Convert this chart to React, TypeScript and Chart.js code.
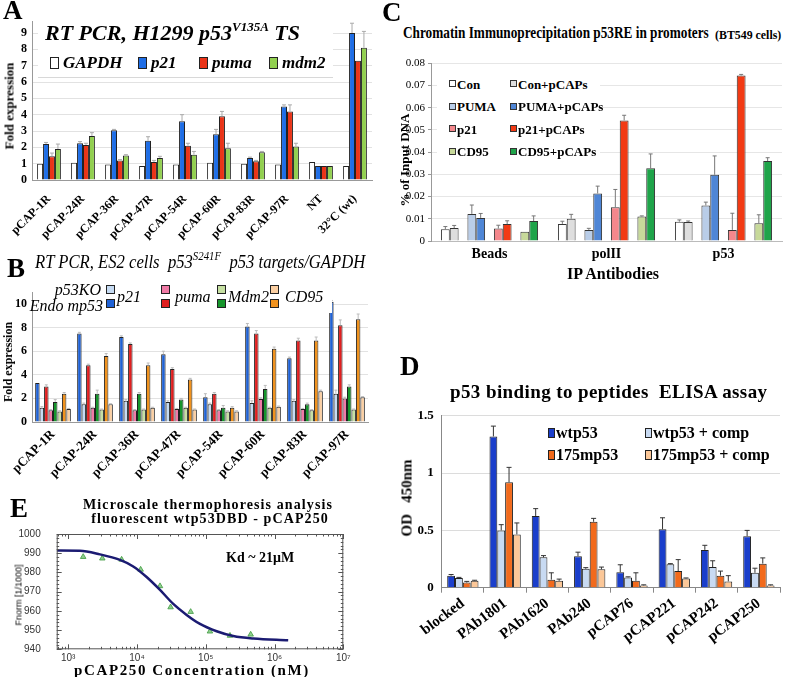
import React, { useEffect, useRef } from 'react';
import { Chart, registerables } from 'chart.js';
Chart.register(...registerables);

const SERIF = '"Liberation Serif", "Times New Roman", serif';
const SANS = '"Liberation Sans", "DejaVu Sans", Arial, sans-serif';

// ---------- Panel A data ----------
const aCategories = ['pCAP-1R', 'pCAP-24R', 'pCAP-36R', 'pCAP-47R', 'pCAP-54R', 'pCAP-60R', 'pCAP-83R', 'pCAP-97R', 'NT', '32°C (wt)'];
const aSeries = ['GAPDH', 'p21', 'puma', 'mdm2'];
const aGAPDH = [1.0, 1.05, 0.95, 0.85, 0.95, 1.05, 1.0, 0.95, 1.1, 0.85];
const aP21 = [2.2, 2.25, 3.05, 2.4, 3.6, 2.8, 1.35, 4.5, 0.85, 9.0];
const aPuma = [1.45, 2.15, 1.2, 1.1, 2.1, 3.9, 1.15, 4.2, 0.85, 7.3];
const aMdm2 = [1.9, 2.7, 1.5, 1.35, 1.55, 1.95, 1.7, 2.05, 0.85, 8.1];
const aGAPDHErr = [0, 0, 0, 0, 0, 0, 0, 0, 0, 0];
const aP21Err = [0.1, 0.1, 0.05, 0.25, 0.4, 0.3, 0.05, 0.1, 0, 0.6];
const aPumaErr = [0.2, 0.1, 0.05, 0.1, 0.15, 0.3, 0.05, 0.4, 0, 0];
const aMdm2Err = [0.3, 0.2, 0.05, 0.1, 0.2, 0.3, 0.05, 0.2, 0, 1.0];
const aYTicks = [0, 1, 2, 3, 4, 5, 6, 7, 8, 9];
const aColors = ['#ffffff', '#1f6ee6', '#ea3418', '#92d050'];

// ---------- Panel B data ----------
const bCategories = ['pCAP-1R', 'pCAP-24R', 'pCAP-36R', 'pCAP-47R', 'pCAP-54R', 'pCAP-60R', 'pCAP-83R', 'pCAP-97R'];
const bSeries = ['Endo mp53 p21', 'p53KO p21', 'Endo mp53 puma', 'p53KO puma', 'Endo mp53 Mdm2', 'p53KO Mdm2', 'Endo mp53 CD95', 'p53KO CD95'];
const bEndoP21 = [3.3, 7.5, 7.2, 5.75, 2.1, 8.1, 5.4, 10.2];
const bKoP21 = [1.2, 1.5, 1.8, 1.7, 1.5, 1.6, 1.8, 2.4];
const bEndoPuma = [3.0, 4.8, 6.6, 4.5, 2.4, 7.5, 6.9, 8.2];
const bKoPuma = [1.0, 1.2, 1.0, 1.1, 1.0, 1.95, 1.1, 2.0];
const bEndoMdm2 = [1.7, 2.4, 2.4, 1.9, 1.2, 2.8, 1.5, 3.0];
const bKoMdm2 = [0.9, 1.05, 1.05, 1.2, 0.9, 1.2, 1.0, 1.05];
const bEndoCd95 = [2.4, 5.6, 4.8, 3.6, 1.2, 6.2, 6.9, 8.7];
const bKoCd95 = [1.1, 1.5, 1.2, 1.05, 0.9, 1.3, 2.6, 2.1];
const bEndoP21Err = [0, 0.1, 0.1, 0.25, 0.3, 0.25, 0.1, 0.1];
const bKoP21Err = [0.1, 0.1, 0.1, 0.1, 0.1, 0.2, 0.1, 0.3];
const bEndoPumaErr = [0.15, 0.1, 0.1, 0.1, 0.1, 0.25, 0.2, 0.45];
const bKoPumaErr = [0.05, 0.05, 0.05, 0.05, 0.05, 0.1, 0.05, 0.1];
const bEndoMdm2Err = [0.2, 0.3, 0.1, 0.1, 0.2, 0.3, 0.1, 0.15];
const bKoMdm2Err = [0.05, 0.05, 0.05, 0.05, 0.05, 0.05, 0.05, 0.05];
const bEndoCd95Err = [0.1, 0.2, 0.2, 0.1, 0.1, 0.15, 0.3, 0.45];
const bKoCd95Err = [0.05, 0.05, 0.05, 0.05, 0.05, 0.05, 0.1, 0.05];
const bYTicks = [0, 2, 4, 6, 8, 10];
const bColors = ['#1f62d6', '#c6dbf3', '#e11f1f', '#f07aa6', '#16962c', '#c6e0a2', '#f0921e', '#fbcfa2'];

// ---------- Panel C data ----------
const cCategories = ['Beads', 'polII', 'p53'];
const cSeries = ['Con', 'Con+pCAPs', 'PUMA', 'PUMA+pCAPs', 'p21', 'p21+pCAPs', 'CD95', 'CD95+pCAPs'];
const cCon = [0.0053, 0.0077, 0.0087];
const cConP = [0.0058, 0.0100, 0.0085];
const cPuma = [0.0122, 0.0050, 0.0160];
const cPumaP = [0.0104, 0.0214, 0.0298];
const cP21 = [0.0056, 0.0152, 0.0050];
const cP21P = [0.0076, 0.0543, 0.0745];
const cCd95 = [0.0042, 0.0110, 0.0080];
const cCd95P = [0.0090, 0.0327, 0.0360];
const cConErr = [0.0012, 0.0012, 0.0008];
const cConPErr = [0.0012, 0.0020, 0.0005];
const cPumaErr = [0.0040, 0.0007, 0.0015];
const cPumaPErr = [0.0020, 0.0033, 0.0085];
const cP21Err = [0.0015, 0.0080, 0.0075];
const cP21PErr = [0.0015, 0.0023, 0.0005];
const cCd95Err = [0, 0.0003, 0.0038];
const cCd95PErr = [0.0023, 0.0065, 0.0015];
const cColors = ['#ffffff', '#dedede', '#b9cde8', '#4f86d6', '#f4878c', '#f23a14', '#c7d99a', '#1fa44a'];

// ---------- Panel D data ----------
const dCategories = ['blocked', 'PAb1801', 'PAb1620', 'PAb240', 'pCAP76', 'pCAP221', 'pCAP242', 'pCAP250'];
const dSeries = ['wtp53', 'wtp53 + comp', '175mp53', '175mp53 + comp'];
const dWt = [0.105, 1.32, 0.625, 0.275, 0.135, 0.51, 0.33, 0.45];
const dWtComp = [0.085, 0.50, 0.265, 0.165, 0.09, 0.205, 0.18, 0.13];
const dMut = [0.045, 0.92, 0.07, 0.575, 0.06, 0.145, 0.105, 0.21];
const dMutComp = [0.06, 0.465, 0.06, 0.16, 0.02, 0.08, 0.055, 0.02];
const dWtErr = [0.01, 0.09, 0.065, 0.035, 0.065, 0.10, 0.04, 0.05];
const dWtCompErr = [0.005, 0.05, 0.015, 0.01, 0.005, 0.005, 0.055, 0.04];
const dMutErr = [0.01, 0.13, 0.06, 0.03, 0.07, 0.10, 0.04, 0.05];
const dMutCompErr = [0.005, 0.10, 0.015, 0.02, 0.005, 0.005, 0.05, 0.005];
const dColors = ['#1a3ecb', '#c8daf2', '#f26a1c', '#fbc798'];

// ---------- Panel E data ----------
const eConc = [1650, 3130, 5980, 11300, 21600, 30800, 60300, 115000, 225000, 450000];
const eFnorm = [988.1, 987.3, 986.7, 981.5, 972.9, 961.9, 959.5, 949.3, 947.1, 947.7];
const eFitConc = [680, 1480, 2890, 5650, 8820, 13800, 21600, 33700, 52700, 82400, 144000, 251000, 491000, 1580000];
const eFitFnorm = [991.4, 991.3, 989.4, 986.5, 983.1, 977.6, 970.9, 963.6, 957.9, 953.2, 949.4, 946.9, 945.6, 944.7];
const eXTicks = [1e3, 1e4, 1e5, 1e6, 1e7];
const eXTickLabels = ['10³', '10⁴', '10⁵', '10⁶', '10⁷'];

// ---------- plugins ----------
const errorBars = {
  id: 'errorBars',
  afterDatasetsDraw(chart: any, _a: any, opts: any) {
    const ctx = chart.ctx;
    const ys = chart.scales.y;
    chart.data.datasets.forEach((ds: any, di: number) => {
      const errs = ds.errors;
      if (!errs) return;
      const meta = chart.getDatasetMeta(di);
      meta.data.forEach((bar: any, i: number) => {
        const v = ds.data[i];
        const e = errs[i];
        if (v == null || !e) return;
        const x = bar.x;
        const y0 = ys.getPixelForValue(v);
        const y1 = ys.getPixelForValue(v + e);
        ctx.save();
        ctx.strokeStyle = opts.color || '#666';
        ctx.lineWidth = opts.width || 1;
        ctx.beginPath();
        ctx.moveTo(x, y0);
        ctx.lineTo(x, y1);
        ctx.moveTo(x - (opts.cap || 2), y1);
        ctx.lineTo(x + (opts.cap || 2), y1);
        ctx.stroke();
        ctx.restore();
      });
    });
  },
};

const frameTicks = {
  id: 'frameTicks',
  afterDraw(chart: any, _a: any, opts: any) {
    if (!opts || !opts.enabled) return;
    const { ctx, chartArea: ca, scales } = chart;
    const xs = scales.x, ys = scales.y;
    ctx.save();
    ctx.strokeStyle = '#555';
    ctx.lineWidth = 1;
    ctx.strokeRect(ca.left + 0.5, ca.top + 0.5, ca.right - ca.left - 1, ca.bottom - ca.top - 1);
    ctx.beginPath();
    for (let d = 2; d < 8; d++) {
      for (let m = 1; m < 10; m++) {
        const v = m * Math.pow(10, d);
        if (v < xs.min || v > xs.max) continue;
        const px = Math.round(xs.getPixelForValue(v)) + 0.5;
        const len = m === 1 ? 5 : 2.5;
        ctx.moveTo(px, ca.bottom); ctx.lineTo(px, ca.bottom - len);
        ctx.moveTo(px, ca.top); ctx.lineTo(px, ca.top + len);
      }
    }
    for (let v = 940; v <= 1000; v += 2) {
      const py = Math.round(ys.getPixelForValue(v)) + 0.5;
      const len = v % 10 === 0 ? 5 : 2.5;
      ctx.moveTo(ca.left, py); ctx.lineTo(ca.left + len, py);
      ctx.moveTo(ca.right, py); ctx.lineTo(ca.right - len, py);
    }
    ctx.stroke();
    ctx.restore();
  },
};

Chart.register(errorBars, frameTicks);

const noPlug = { legend: { display: false }, tooltip: { enabled: false } };

function mkBars(labels: string[], values: number[][], errs: number[][] | null, colors: string[], catPct: number, border = '#222') {
  return values.map((vals, k) => ({
    label: labels[k],
    data: vals,
    errors: errs ? errs[k] : null,
    backgroundColor: colors[k],
    borderColor: border,
    borderWidth: 1,
    categoryPercentage: catPct,
    barPercentage: 1,
  }));
}

// ---------- configs ----------
function configA() {
  return {
    type: 'bar',
    data: {
      labels: aCategories,
      datasets: mkBars(aSeries, [aGAPDH, aP21, aPuma, aMdm2], [aGAPDHErr, aP21Err, aPumaErr, aMdm2Err], aColors, 0.7),
    },
    options: {
      responsive: false, animation: false,
      layout: { padding: { top: 21.6, right: 18, left: 0, bottom: 0 } },
      plugins: { ...noPlug, errorBars: { color: '#aaa', cap: 2 } },
      scales: {
        x: {
          grid: { display: false }, border: { color: '#999' },
          ticks: { font: { family: SERIF, size: 12, weight: 'bold' }, color: '#000', minRotation: 45, maxRotation: 45, autoSkip: false, padding: 4 },
          afterFit: (s: any) => { s.height = 80; },
        },
        y: {
          min: 0, max: 9.7,
          ticks: { font: { family: SERIF, size: 12, weight: 'bold' }, color: '#000', padding: 5 },
          afterBuildTicks: (s: any) => { s.ticks = aYTicks.map((v) => ({ value: v })); },
          grid: { color: '#e2e2e2', drawTicks: false }, border: { color: '#999' },
          afterFit: (s: any) => { s.width = 32; },
        },
      },
    },
  };
}

function configB() {
  return {
    type: 'bar',
    data: {
      labels: bCategories,
      datasets: mkBars(bSeries, [bEndoP21, bKoP21, bEndoPuma, bKoPuma, bEndoMdm2, bKoMdm2, bEndoCd95, bKoCd95],
        [bEndoP21Err, bKoP21Err, bEndoPumaErr, bKoPumaErr, bEndoMdm2Err, bKoMdm2Err, bEndoCd95Err, bKoCd95Err], bColors, 0.85),
    },
    options: {
      responsive: false, animation: false,
      layout: { padding: { top: 2.3, right: 22, left: 0, bottom: 0 } },
      plugins: { ...noPlug, errorBars: { color: '#bbb', cap: 1.5 } },
      scales: {
        x: {
          grid: { display: false, drawTicks: false }, border: { color: '#999' },
          ticks: { font: { family: SERIF, size: 13, weight: 'bold' }, color: '#000', minRotation: 45, maxRotation: 45, autoSkip: false, padding: 5 },
          afterFit: (s: any) => { s.height = 58; },
        },
        y: {
          min: 0, max: 11,
          ticks: { font: { family: SERIF, size: 12, weight: 'bold' }, color: '#000', padding: 5 },
          afterBuildTicks: (s: any) => { s.ticks = bYTicks.map((v) => ({ value: v })); },
          grid: { color: '#e2e2e2', drawTicks: false }, border: { color: '#999' },
          afterFit: (s: any) => { s.width = 32; },
        },
      },
    },
  };
}

function configC() {
  const values = [cCon, cConP, cPuma, cPumaP, cP21, cP21P, cCd95, cCd95P];
  const errs = [cConErr, cConPErr, cPumaErr, cPumaPErr, cP21Err, cP21PErr, cCd95Err, cCd95PErr];
  const bars = mkBars(cSeries, values, errs, cColors, 0.83, '#333');
  const spacer = () => ({ label: '', data: cCategories.map(() => null), categoryPercentage: 0.83, barPercentage: 1 });
  const datasets = [bars[0], bars[1], spacer(), bars[2], bars[3], spacer(), bars[4], bars[5], spacer(), bars[6], bars[7]];
  return {
    type: 'bar',
    data: { labels: cCategories, datasets },
    options: {
      responsive: false, animation: false,
      layout: { padding: { top: 18.3, right: 10, left: 0, bottom: 0 } },
      plugins: { ...noPlug, errorBars: { color: '#777', cap: 2 } },
      scales: {
        x: {
          grid: { display: false, drawTicks: false }, border: { color: '#bbb' },
          ticks: { font: { family: SERIF, size: 14, weight: 'bold' }, color: '#000', padding: 5 },
          afterFit: (s: any) => { s.height = 44; },
        },
        y: {
          min: 0, max: 0.08,
          ticks: { stepSize: 0.01, font: { family: SERIF, size: 11 }, color: '#000', padding: 3,
            callback: (v: any) => (v === 0 ? '0' : Number(v).toFixed(2)) },
          grid: { color: '#e6e6e6', drawTicks: true, tickLength: 3, tickColor: '#999' }, border: { color: '#999' },
          afterFit: (s: any) => { s.width = 36; },
        },
      },
    },
  };
}

function configD() {
  return {
    type: 'bar',
    data: {
      labels: dCategories,
      datasets: mkBars(dSeries, [dWt, dWtComp, dMut, dMutComp], [dWtErr, dWtCompErr, dMutErr, dMutCompErr], dColors, 0.74, '#222'),
    },
    options: {
      responsive: false, animation: false,
      layout: { padding: { top: 13.3, right: 12, left: 0, bottom: 0 } },
      plugins: { ...noPlug, errorBars: { color: '#333', cap: 2.5 } },
      scales: {
        x: {
          grid: { display: true, drawOnChartArea: false, drawTicks: true, tickLength: 5, offset: true, color: '#888' },
          border: { color: '#888' },
          ticks: { font: { family: SERIF, size: 15, weight: 'bold' }, color: '#000', minRotation: 37, maxRotation: 37, autoSkip: false, padding: 2 },
          afterFit: (s: any) => { s.height = 89.3; },
        },
        y: {
          min: 0, max: 1.5,
          ticks: { stepSize: 0.5, font: { family: SERIF, size: 13, weight: 'bold' }, color: '#000', padding: 8,
            callback: (v: any) => String(Number(Number(v).toFixed(2))) },
          grid: { color: '#dcdcdc', drawTicks: false }, border: { color: '#888' },
          afterFit: (s: any) => { s.width = 41.7; },
        },
      },
    },
  };
}

function configE() {
  return {
    type: 'scatter',
    data: {
      datasets: [
        {
          label: 'fit',
          data: eFitConc.map((c, i) => ({ x: c, y: eFitFnorm[i] })),
          showLine: true, borderColor: '#1b1b72', borderWidth: 2.5, pointRadius: 0,
          cubicInterpolationMode: 'monotone', fill: false,
        },
        {
          label: 'data',
          data: eConc.map((c, i) => ({ x: c, y: eFnorm[i] })),
          showLine: false, pointStyle: 'triangle', pointRadius: 3.2,
          backgroundColor: '#8fce8f', borderColor: '#3f9a3f', borderWidth: 0.8,
        },
      ],
    },
    options: {
      responsive: false, animation: false,
      layout: { padding: { top: 10.7, right: 16.7, left: 0, bottom: 0 } },
      plugins: { ...noPlug, frameTicks: { enabled: true } },
      scales: {
        x: {
          type: 'logarithmic', min: 680, max: 1e7,
          afterBuildTicks: (s: any) => { s.ticks = eXTicks.map((v) => ({ value: v })); },
          ticks: { font: { family: SANS, size: 10 }, color: '#333', padding: 3,
            callback: (v: any) => eXTickLabels[eXTicks.indexOf(Number(v))] ?? '' },
          grid: { display: false, drawTicks: false }, border: { display: false },
          afterFit: (s: any) => { s.height = 27.7; },
        },
        y: {
          min: 940, max: 1000,
          ticks: { stepSize: 10, font: { family: SANS, size: 10 }, color: '#333', padding: 8,
            callback: (v: any) => String(v) },
          grid: { display: false }, border: { display: false },
          afterFit: (s: any) => { s.width = 56.7; },
        },
      },
    },
  };
}

// ---------- components ----------
function ChartPanel({ x, y, w, h, make }: any) {
  const ref = useRef<HTMLCanvasElement>(null);
  useEffect(() => {
    const chart = new Chart(ref.current as any, make());
    return () => chart.destroy();
  }, []);
  return <canvas ref={ref} width={w} height={h} style={{ position: 'absolute', left: x, top: y, width: w, height: h }} />;
}

function T({ x, base, size, children, weight = 'bold', italic = false, family = SERIF, anchor = 'start', ls = 0, sx = 1, color = '#000' }: any) {
  const tx = anchor === 'middle' ? 'translateX(-50%)' : anchor === 'end' ? 'translateX(-100%)' : '';
  const origin = anchor === 'middle' ? 'center' : anchor === 'end' ? 'right' : 'left';
  return (
    <div style={{
      position: 'absolute', left: x, top: base - 0.8375 * size, fontSize: size, lineHeight: `${size}px`,
      fontFamily: family, fontWeight: weight as any, fontStyle: italic ? 'italic' : 'normal', whiteSpace: 'nowrap',
      letterSpacing: ls, color, transform: `${tx} scaleX(${sx})`, transformOrigin: origin,
    }}>{children}</div>
  );
}

function VT({ cx, cy, size, children, weight = 'bold', family = SERIF }: any) {
  return (
    <div style={{
      position: 'absolute', left: cx, top: cy, fontSize: size, lineHeight: `${size}px`, fontFamily: family,
      fontWeight: weight as any, whiteSpace: 'nowrap', transform: 'translate(-50%,-50%) rotate(-90deg)',
    }}>{children}</div>
  );
}

function Box({ x, y, w, h, color, border = '#222', bw = 1 }: any) {
  return <div style={{ position: 'absolute', left: x, top: y, width: w, height: h, background: color, border: `${bw}px solid ${border}`, boxSizing: 'border-box' }} />;
}

function Rect({ x, y, w, h, style }: any) {
  return <div style={{ position: 'absolute', left: x, top: y, width: w, height: h, background: '#fff', ...style }} />;
}

const aLegendX = [50, 138, 199, 269];
const bLegendX = [106, 161, 217, 270];
const bLegendNames = ['p21', 'puma', 'Mdm2', 'CD95'];
const bLegendNameX = [117, 175, 228, 285];
const cLegendRowY = [84.3, 106.7, 129.3, 151.7];
const dLegendRowY = [433, 455];

export default function App() {
  return (
    <div style={{ position: 'absolute', left: 0, top: 0, width: 792, height: 677, overflow: 'hidden', background: '#fff' }}>
      {/* Panel A */}
      <ChartPanel x={0} y={0} w={390} h={260} make={configA} />
      <Rect x={38} y={20} w={295} h={57} style={{ borderBottom: '1px solid #d8d8d8' }} />
      <T x={3} base={20} size={27}>A</T>
      <T x={45} base={40} size={22} italic>
        RT PCR, H1299 p53<sup style={{ fontSize: 13, verticalAlign: 0, position: 'relative', top: -9 }}>V135A</sup> TS
      </T>
      {aSeries.map((s, k) => (
        <React.Fragment key={s}>
          <Box x={aLegendX[k]} y={57} w={9} h={12} color={aColors[k]} bw={1.5} />
          <T x={aLegendX[k] + 13} base={68.5} size={17} italic>{s}</T>
        </React.Fragment>
      ))}
      <VT cx={9} cy={106} size={13}>Fold expression</VT>

      {/* Panel B */}
      <ChartPanel x={0} y={280} w={390} h={200} make={configB} />
      <Rect x={35} y={283} w={297} h={30} />
      <T x={7} base={278} size={27}>B</T>
      <T x={35} base={268} size={18.5} weight="normal" italic sx={0.9}>
        RT PCR, ES2 cells&nbsp; p53<sup style={{ fontSize: 12, verticalAlign: 0, position: 'relative', top: -8 }}>S241F</sup>&nbsp; p53 targets/GAPDH
      </T>
      <T x={101} base={295} size={16} weight="normal" italic anchor="end">p53KO</T>
      <T x={103} base={311} size={16} weight="normal" italic anchor="end">Endo mp53</T>
      {bLegendX.map((bx, k) => (
        <React.Fragment key={k}>
          <Box x={bx} y={285} w={9} h={9} color={bColors[2 * k + 1]} bw={1.5} />
          <Box x={bx} y={299} w={9} h={9} color={bColors[2 * k]} bw={1.5} />
          <T x={bLegendNameX[k]} base={302} size={16} weight="normal" italic>{bLegendNames[k]}</T>
        </React.Fragment>
      ))}
      <VT cx={8} cy={362} size={12}>Fold expression</VT>

      {/* Panel C */}
      <ChartPanel x={395} y={45} w={397} h={240} make={configC} />
      <Rect x={437} y={70} w={163} h={95} />
      <T x={382} base={22} size={27}>C</T>
      <T x={403} base={38.3} size={17} sx={0.78}>Chromatin Immunoprecipitation p53RE in promoters</T>
      <T x={715} base={39.5} size={12.5} sx={0.95}>(BT549 cells)</T>
      {cSeries.map((s, k) => {
        const col = k % 2, row = Math.floor(k / 2);
        const bx = col === 0 ? 449 : 510;
        return (
          <React.Fragment key={s}>
            <Box x={bx} y={cLegendRowY[row] - 4} w={7} h={7} color={cColors[k]} border="#333" bw={1.2} />
            <T x={bx + 8} base={cLegendRowY[row] + 4.5} size={13}>{s}</T>
          </React.Fragment>
        );
      })}
      <VT cx={404} cy={160} size={13}>% of Input DNA</VT>
      <T x={613} base={279} size={16} anchor="middle">IP Antibodies</T>

      {/* Panel D */}
      <ChartPanel x={400} y={400} w={392} h={277} make={configD} />
      <T x={400} base={376} size={27}>D</T>
      <T x={450} base={398.3} size={19} ls={0.4}>p53 binding to peptides&nbsp; ELISA assay</T>
      {dSeries.map((s, k) => {
        const col = k % 2, row = Math.floor(k / 2);
        const bx = col === 0 ? 548 : 645;
        return (
          <React.Fragment key={s}>
            <Box x={bx} y={dLegendRowY[row] - 5} w={7} h={10} color={dColors[k]} border="#222" bw={1.2} />
            <T x={bx + 8} base={dLegendRowY[row] + 5.5} size={16}>{s}</T>
          </React.Fragment>
        );
      })}
      <VT cx={407} cy={498} size={15}>OD&nbsp;&nbsp;&nbsp;450nm</VT>

      {/* Panel E */}
      <ChartPanel x={0} y={520} w={360} h={157} make={configE} />
      <T x={10} base={518} size={27}>E</T>
      <T x={208} base={509.3} size={14} anchor="middle" ls={1.1}>Microscale thermophoresis analysis</T>
      <T x={210} base={524} size={14} anchor="middle" ls={1.1}>fluorescent wtp53DBD - pCAP250</T>
      <T x={226} base={563} size={14}>Kd ~ 21μM</T>
      <VT cx={19} cy={595} size={9} weight="normal" family={SANS}>Fnorm [1/1000]</VT>
      <T x={192} base={676} size={15} anchor="middle" ls={1.6}>pCAP250 Concentration (nM)</T>
    </div>
  );
}
